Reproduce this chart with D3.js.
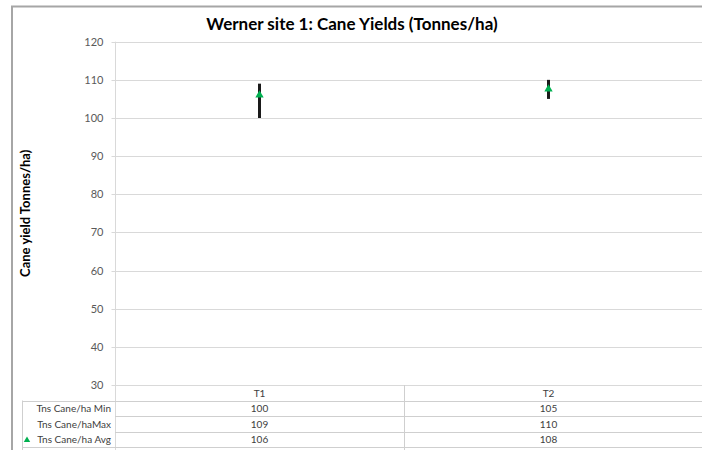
<!DOCTYPE html>
<html>
<head>
<meta charset="utf-8">
<script src="https://cdn.jsdelivr.net/npm/d3@7"></script>
<style>
  html, body { margin: 0; padding: 0; background: #fff; }
  svg { display: block; }
  text { font-family: Lato, "Open Sans", sans-serif; }
</style>
</head>
<body>
<svg id="chart" width="702" height="450"></svg>
<script>
// ---- data ----
const categories = ["T1", "T2"];
const minVals = [100, 105];
const maxVals = [109, 110];
const avgVals = [106, 107.6];
const yTicks = [30, 40, 50, 60, 70, 80, 90, 100, 110, 120];
const rowLabels = ["Tns Cane/ha Min", "Tns Cane/haMax", "Tns Cane/ha Avg"];
const titleText = "Werner site 1: Cane Yields (Tonnes/ha)";
const yTitleText = "Cane yield Tonnes/ha)";

// ---- layout ----
const W = 702, H = 450;
const plotLeft = 115, plotRight = 693, plotTop = 41.7, plotBottom = 385;
const rowH = 15.5;
const tableLeft = 22;
const gridColor = "#d9d9d9";
const tableColor = "#cfcfcf";
const green = "#00b050";

const svg = d3.select("#chart");

const x = d3.scaleBand().domain(categories).range([plotLeft, plotRight]).padding(0);
const y = d3.scaleLinear().domain([30, 120]).range([plotBottom, plotTop]);
const fmt = d3.format(".0f");

// outer frame (cropped border)
svg.append("line").attr("x1", 11).attr("x2", W).attr("y1", 6.5).attr("y2", 6.5)
  .attr("stroke", "#a6a6a6").attr("stroke-width", 2);
svg.append("line").attr("x1", 12).attr("x2", 12).attr("y1", 6).attr("y2", H)
  .attr("stroke", "#a6a6a6").attr("stroke-width", 2);

// title
svg.append("text").attr("x", 352).attr("y", 30).attr("text-anchor", "middle")
  .attr("font-size", 17).attr("font-weight", "bold").attr("fill", "#000")
  .text(titleText);

// gridlines
svg.append("g").selectAll("line").data(yTicks).join("line")
  .attr("x1", plotLeft).attr("x2", W)
  .attr("y1", d => Math.round(y(d)) + 0.5).attr("y2", d => Math.round(y(d)) + 0.5)
  .attr("stroke", gridColor).attr("stroke-width", 1);

// y axis
const yAxis = d3.axisLeft(y).tickValues(yTicks).tickSize(4).tickPadding(8);
const gy = svg.append("g").attr("transform", `translate(${plotLeft + 0.5},0)`).call(yAxis);
gy.select(".domain").attr("stroke", gridColor).attr("d", `M-0,${plotTop}V${H}`);
gy.selectAll(".tick line").attr("stroke", gridColor);
gy.selectAll(".tick text").attr("font-family", "Lato, 'Open Sans', sans-serif")
  .attr("font-size", 11).attr("fill", "#595959");
gy.selectAll(".tick").attr("transform", d => `translate(0,${Math.round(y(d)) + 0.5})`);

// y axis title
svg.append("text")
  .attr("transform", `translate(30,${(plotTop + plotBottom) / 2}) rotate(-90)`)
  .attr("text-anchor", "middle").attr("font-size", 13).attr("font-weight", "bold")
  .attr("fill", "#000").text(yTitleText);

// error bars (min-max)
svg.append("g").selectAll("line").data(categories).join("line")
  .attr("x1", d => x(d) + x.bandwidth() / 2).attr("x2", d => x(d) + x.bandwidth() / 2)
  .attr("y1", (d, i) => y(minVals[i])).attr("y2", (d, i) => y(maxVals[i]))
  .attr("stroke", "#1a1a1a").attr("stroke-width", 3);

// avg markers (triangles)
const tri = d3.symbol().type(d3.symbolTriangle).size(30);
svg.append("g").selectAll("path").data(categories).join("path")
  .attr("d", tri)
  .attr("transform", (d, i) => `translate(${x(d) + x.bandwidth() / 2},${y(avgVals[i])})`)
  .attr("fill", green);

// ---- data table ----
const table = svg.append("g");
const rowTop = i => plotBottom + rowH * (i + 1);
// horizontal lines
[0, 1, 2, 3].forEach(i => {
  const yy = Math.round(rowTop(i)) + 0.5;
  table.append("line").attr("x1", i === 0 ? tableLeft : plotLeft).attr("x2", W)
    .attr("y1", yy).attr("y2", yy).attr("stroke", tableColor);
});
// bottom line
table.append("line").attr("x1", tableLeft).attr("x2", W)
  .attr("y1", Math.round(rowTop(3)) + 0.5).attr("y2", Math.round(rowTop(3)) + 0.5)
  .attr("stroke", tableColor);
// vertical lines
table.append("line").attr("x1", tableLeft + 0.5).attr("x2", tableLeft + 0.5)
  .attr("y1", rowTop(0)).attr("y2", H).attr("stroke", tableColor);
table.append("line").attr("x1", Math.round(x("T2")) + 0.5).attr("x2", Math.round(x("T2")) + 0.5)
  .attr("y1", plotBottom).attr("y2", H).attr("stroke", tableColor);

// header labels
table.selectAll("text.hdr").data(categories).join("text").attr("class", "hdr")
  .attr("x", d => x(d) + x.bandwidth() / 2).attr("y", plotBottom + rowH / 2 + 4)
  .attr("text-anchor", "middle").attr("font-size", 10).attr("fill", "#404040").text(d => d);

// row labels
table.selectAll("text.rl").data(rowLabels).join("text").attr("class", "rl")
  .attr("x", plotLeft - 4).attr("y", (d, i) => rowTop(i) + rowH / 2 + 4)
  .attr("text-anchor", "end").attr("font-size", 10).attr("fill", "#404040").text(d => d);
// legend key triangle in avg row
table.append("path").attr("d", d3.symbol().type(d3.symbolTriangle).size(18))
  .attr("transform", `translate(27,${rowTop(2) + rowH / 2 + 1})`).attr("fill", green);

// values
const rows = [minVals, maxVals, avgVals];
rows.forEach((vals, r) => {
  table.selectAll(`text.v${r}`).data(categories).join("text").attr("class", `v${r}`)
    .attr("x", d => x(d) + x.bandwidth() / 2).attr("y", rowTop(r) + rowH / 2 + 4)
    .attr("text-anchor", "middle").attr("font-size", 10).attr("fill", "#404040")
    .text((d, i) => fmt(vals[i]));
});
</script>
</body>
</html>
